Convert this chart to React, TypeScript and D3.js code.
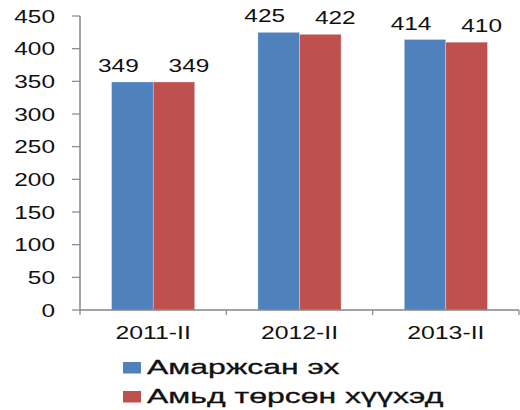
import React from "react";
import * as d3 from "d3";

const categories = ["2011-II", "2012-II", "2013-II"];
const mothers = [349, 425, 414];
const births = [349, 422, 410];
const seriesNames = ["Амаржсан эх", "Амьд төрсөн хүүхэд"];
const yTicks = [0, 50, 100, 150, 200, 250, 300, 350, 400, 450];

const colors = ["#4F81BD", "#C0504D"];
const axisColor = "#868686";
const font = "'Liberation Sans', Arial, sans-serif";

export default function App() {
  const W = 520, H = 410;
  const left = 80, right = 519, top = 16, bottom = 310;
  const x = d3.scaleBand<string>().domain(categories).range([left, right]).padding(0);
  const bw = x.bandwidth();
  const pad = bw * 0.216;
  const x1 = d3.scaleBand<number>().domain([0, 1]).range([pad, bw - pad]).padding(0);
  const y = d3.scaleLinear().domain([0, 450]).range([bottom, top]);
  const series = [mothers, births];
  const labelShift = [-14, 15];
  const sx = 1.32;

  return (
    <svg width={W} height={H} style={{ position: "absolute", left: 0, top: 0, background: "#fff" }}>
      {series.map((vals, si) =>
        categories.map((c, ci) => (
          <rect key={`b${si}-${ci}`} x={(x(c) ?? 0) + (x1(si) ?? 0)} y={y(vals[ci])}
            width={x1.bandwidth()} height={bottom - y(vals[ci])} fill={colors[si]}
            stroke="#dfe6ef" strokeWidth={0.4} />
        ))
      )}
      {/* y axis */}
      <line x1={left} x2={left} y1={top} y2={bottom} stroke={axisColor} strokeWidth={1.5} />
      {yTicks.map((t) => (
        <g key={`yt${t}`}>
          <line x1={left - 8} x2={left} y1={y(t)} y2={y(t)} stroke={axisColor} strokeWidth={1.2} />
          <text transform={`translate(55,${y(t)}) scale(${sx},1)`} textAnchor="end" dy="0.36em"
            fontFamily={font} fontSize={18.5} fill="#111">{t}</text>
        </g>
      ))}
      {/* x axis */}
      <line x1={left} x2={right} y1={bottom} y2={bottom} stroke={axisColor} strokeWidth={1.5} />
      {categories.map((c, i) => (
        <line key={`xt${i}`} x1={(x(c) ?? 0) + bw} x2={(x(c) ?? 0) + bw} y1={bottom} y2={bottom + 5}
          stroke={axisColor} strokeWidth={1.2} />
      ))}
      <line x1={left} x2={left} y1={bottom} y2={bottom + 5} stroke={axisColor} strokeWidth={1.2} />
      {categories.map((c) => (
        <text key={`xl${c}`} transform={`translate(${(x(c) ?? 0) + bw / 2},339) scale(1.34,1)`}
          textAnchor="middle" fontFamily={font} fontSize={18.5} fill="#111">{c}</text>
      ))}
      {/* data labels */}
      {series.map((vals, si) =>
        categories.map((c, ci) => (
          <text key={`l${si}-${ci}`}
            transform={`translate(${(x(c) ?? 0) + (x1(si) ?? 0) + x1.bandwidth() / 2 + labelShift[si]},${y(vals[ci]) - 10}) scale(${sx},1)`}
            textAnchor="middle" fontFamily={font} fontSize={18.5} fill="#111">{vals[ci]}</text>
        ))
      )}
      {/* legend */}
      {seriesNames.map((n, i) => (
        <g key={`lg${i}`} transform={`translate(123,${362 + i * 29})`}>
          <rect x={0} y={0} width={18} height={11.5} fill={colors[i]} />
          <text transform={`translate(24,12) scale(1.56,1)`} fontFamily={font} fontSize={20.5}
            fill="#111" stroke="#111" strokeWidth={0.3}>{n}</text>
        </g>
      ))}
    </svg>
  );
}
